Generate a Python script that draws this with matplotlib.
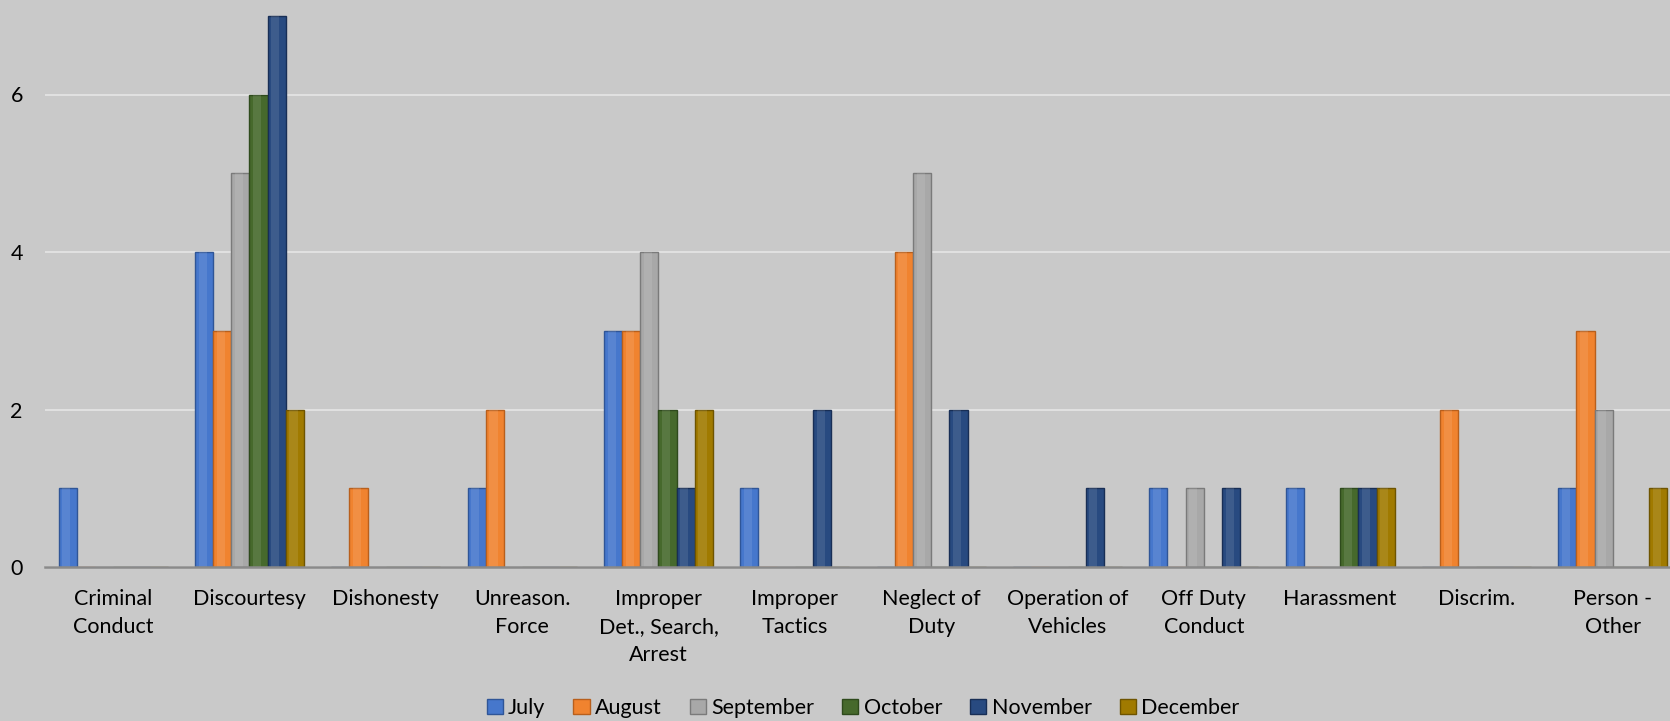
import matplotlib
matplotlib.use("Agg")
import matplotlib.pyplot as plt
import numpy as np

categories = ["Criminal\nConduct", "Discourtesy", "Dishonesty", "Unreason.\nForce",
              "Improper\nDet., Search,\nArrest", "Improper\nTactics", "Neglect of\nDuty",
              "Operation of\nVehicles", "Off Duty\nConduct", "Harassment", "Discrim.",
              "Person -\nOther"]
series_names = ["July", "August", "September", "October", "November", "December"]
july      = [1, 4, 0, 1, 3, 1, 0, 0, 1, 1, 0, 1]
august    = [0, 3, 1, 2, 3, 0, 4, 0, 0, 0, 2, 3]
september = [0, 5, 0, 0, 4, 0, 5, 0, 1, 0, 0, 2]
october   = [0, 6, 0, 0, 2, 0, 0, 0, 0, 1, 0, 0]
november  = [0, 7, 0, 0, 1, 2, 2, 1, 1, 1, 0, 0]
december  = [0, 2, 0, 0, 2, 0, 0, 0, 0, 1, 0, 1]
values = [july, august, september, october, november, december]
yticks = [0, 2, 4, 6]

colors = ["#4677CC", "#F0832F", "#A8A8A8", "#46692C", "#284A80", "#A07A00"]
edges = ["#2F5597", "#B85F1C", "#7A7A7A", "#2E4A1C", "#182E55", "#6E5400"]

plt.rcParams['font.family'] = ['Lato', 'DejaVu Sans']
W, H = 1670, 721
fig = plt.figure(figsize=(W/100, H/100), dpi=100)
bg = "#C9C9C9"
fig.patch.set_facecolor(bg)
ax = fig.add_axes([45/W, 1 - 567/H, 1636/W, 567/H])
ax.set_facecolor(bg)

n = len(series_names)
bw = 1.0 / (n + 1.5)
x = np.arange(len(categories))
for i, (vals, c, e) in enumerate(zip(values, colors, edges)):
    offs = (i - (n - 1) / 2) * bw
    ax.bar(x + offs, vals, width=bw, color=c, edgecolor=e, linewidth=1.0,
           label=series_names[i], zorder=3)
    # subtle bevel highlight
    ax.bar(x + offs - bw * 0.08, vals, width=bw * 0.45, color="white", alpha=0.10,
           linewidth=0, zorder=4)

ax.set_xlim(-0.5, len(categories) - 0.5)
ax.set_ylim(0, 7.2)
ax.set_yticks(yticks)
ax.set_yticklabels([str(t) for t in yticks])
ax.set_xticks(x)
ax.set_xticklabels(categories, fontsize=15.5, linespacing=1.5)
ax.tick_params(axis='y', labelsize=15.5, length=0, pad=16)
ax.tick_params(axis='x', length=0, pad=16)
for lab in ax.get_xticklabels():
    lab.set_horizontalalignment('center')
    lab.set_verticalalignment('top')
ax.grid(axis='y', color="#E0E0E0", linewidth=1.5, zorder=0)
ax.set_axisbelow(True)
for s in ['top', 'right', 'left']:
    ax.spines[s].set_visible(False)
ax.spines['bottom'].set_color("#8A8A8A")
ax.spines['bottom'].set_linewidth(1.8)
ax.spines['bottom'].set_zorder(5)

leg = fig.legend(*ax.get_legend_handles_labels(), loc='center',
                 bbox_to_anchor=((45 + 818) / W, 1 - 708 / H),
                 ncol=6, frameon=False, fontsize=15.5, handlelength=0.75, handleheight=0.75,
                 handletextpad=0.25, columnspacing=1.3, borderaxespad=0, borderpad=0)
fig.savefig("out.png", dpi=100, facecolor=bg)
